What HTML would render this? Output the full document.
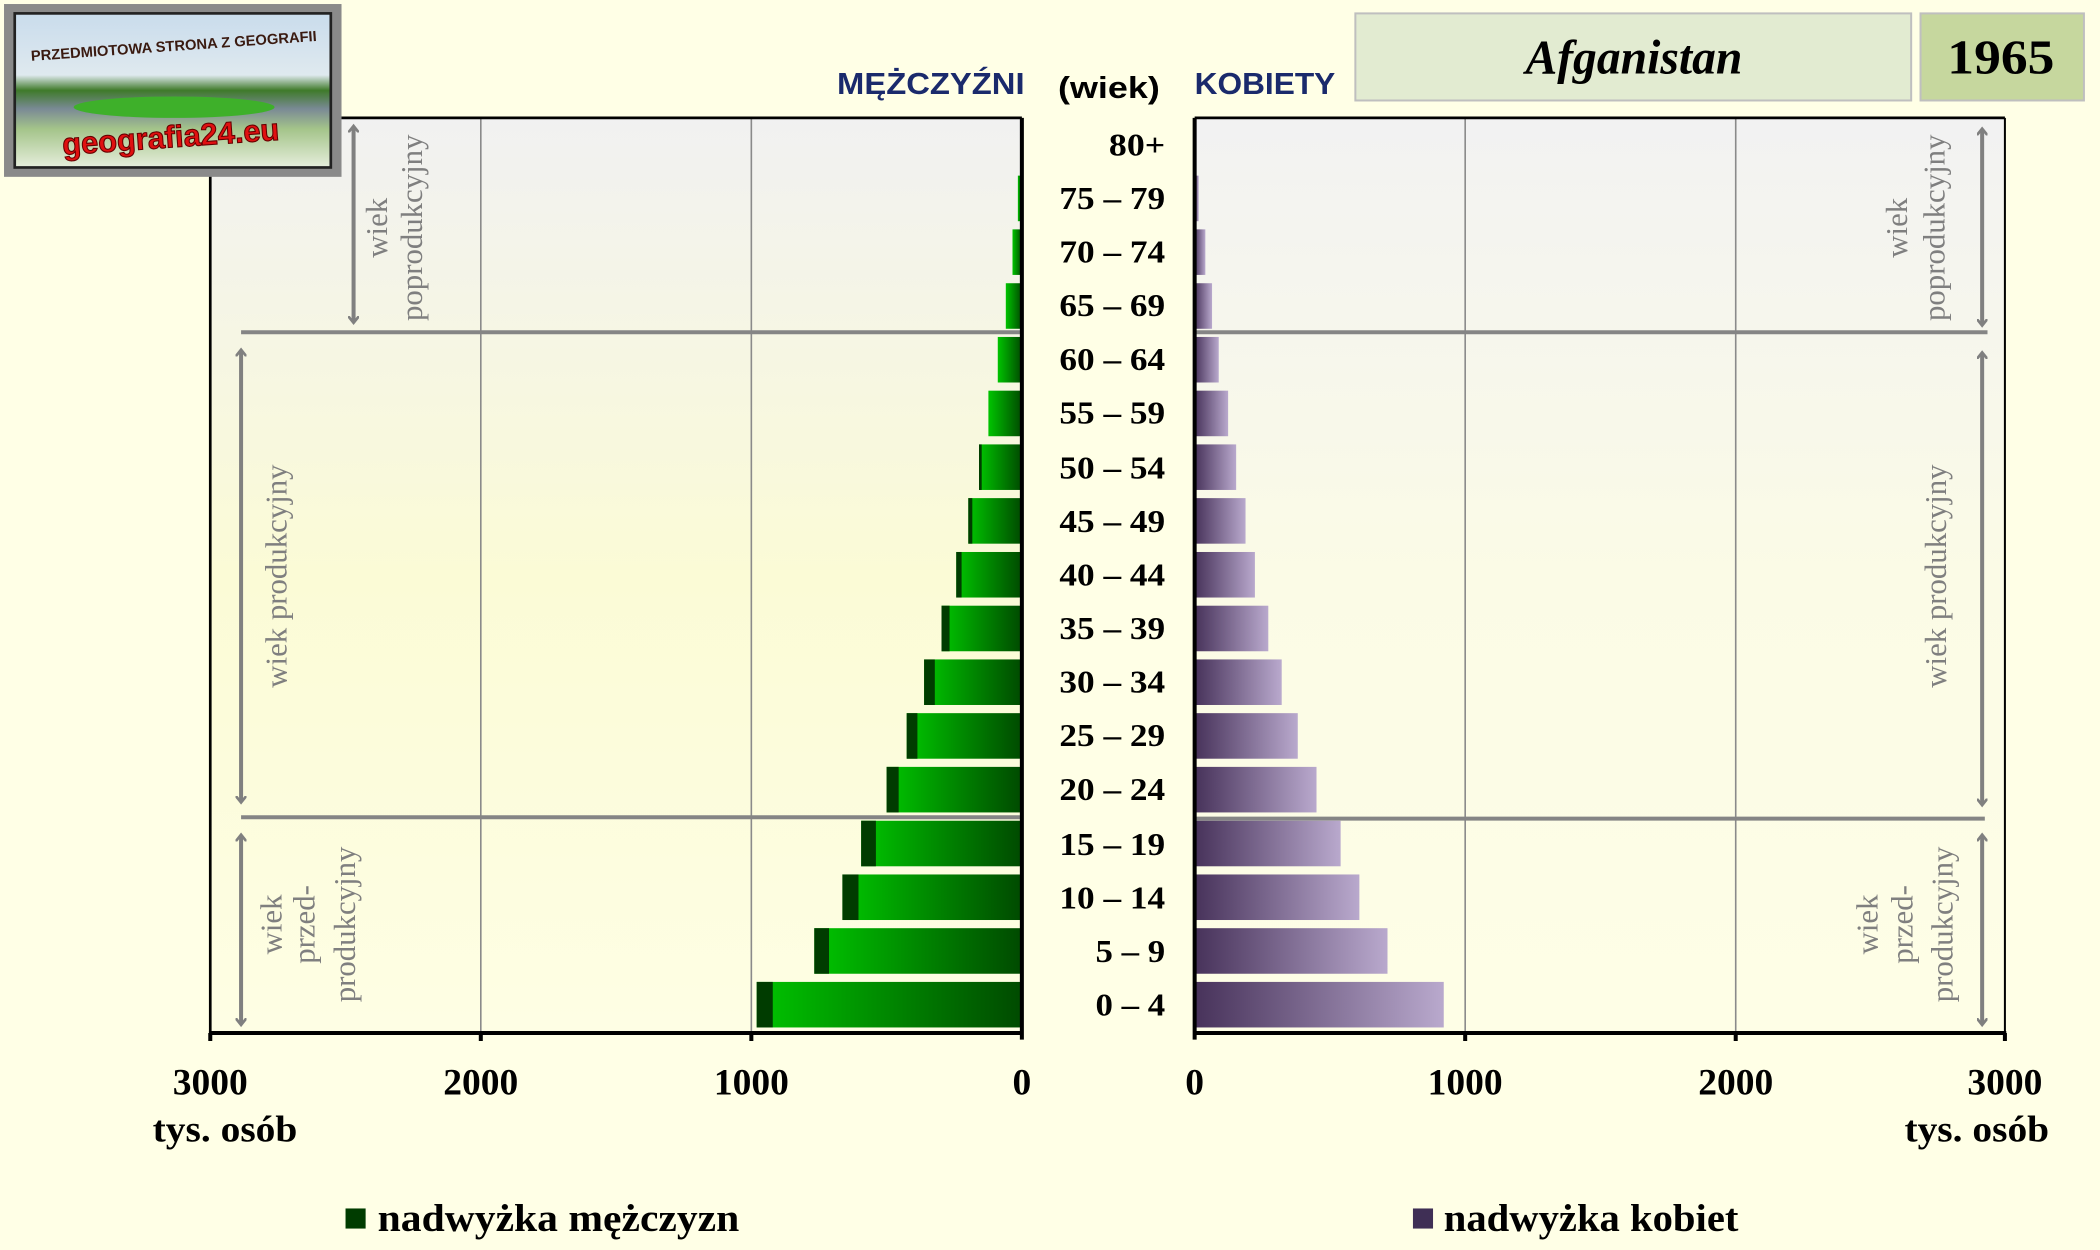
<!DOCTYPE html>
<html><head><meta charset="utf-8"><style>
html,body{margin:0;padding:0;background:#ffffe6;}
svg{display:block}
</style></head><body>
<svg width="2100" height="1250" viewBox="0 0 1568 933" preserveAspectRatio="none" xmlns="http://www.w3.org/2000/svg">
<defs>
<linearGradient id="bg" x1="0" y1="0" x2="0" y2="1">
<stop offset="0" stop-color="#f1f1f1"/><stop offset="0.5" stop-color="#fbfbd6"/><stop offset="1" stop-color="#fefee4"/></linearGradient>
<linearGradient id="bgr" x1="0" y1="0" x2="0" y2="1">
<stop offset="0" stop-color="#f2f2f2"/><stop offset="0.5" stop-color="#fbfbe6"/><stop offset="1" stop-color="#fefee6"/></linearGradient>
<linearGradient id="gm" x1="0" y1="0" x2="1" y2="0">
<stop offset="0" stop-color="#00c400"/><stop offset="1" stop-color="#004a00"/></linearGradient>
<linearGradient id="gf" x1="0" y1="0" x2="1" y2="0">
<stop offset="0" stop-color="#47325a"/><stop offset="1" stop-color="#b9a9cd"/></linearGradient>
<linearGradient id="sky" x1="0" y1="0" x2="0" y2="1">
<stop offset="0" stop-color="#c9dcec"/><stop offset="0.4" stop-color="#dfe9ef"/><stop offset="0.5" stop-color="#3f7a2a"/><stop offset="0.62" stop-color="#7a8a95"/><stop offset="0.75" stop-color="#a4c48a"/><stop offset="1" stop-color="#e6eedc"/></linearGradient>
<marker id="ah" markerWidth="8" markerHeight="8" refX="4" refY="4" orient="auto-start-reverse" markerUnits="userSpaceOnUse"><path d="M0,0 L5,4 L0,8" fill="none" stroke="#808080" stroke-width="2"/></marker>
</defs>
<rect width="1568" height="933" fill="#ffffe6"/>
<rect x="157" y="88" width="606" height="682" fill="url(#bg)"/>
<rect x="892" y="88" width="605" height="682" fill="url(#bgr)"/>
<g stroke="#8a8a8a" stroke-width="1.2">
<line x1="359" y1="88" x2="359" y2="770"/><line x1="561" y1="88" x2="561" y2="770"/>
<line x1="1094" y1="88" x2="1094" y2="770"/><line x1="1296" y1="88" x2="1296" y2="770"/>
</g>
<g stroke="#858585" stroke-width="3">
<line x1="180" y1="248" x2="763" y2="248"/><line x1="180" y1="610" x2="763" y2="610"/>
<line x1="892" y1="248" x2="1484" y2="248"/><line x1="892" y1="611" x2="1482" y2="611"/>
</g>
<g>
<rect x="762" y="91" width="1" height="34" fill="#003c00"/>
<rect x="760" y="131.1" width="3" height="34" fill="url(#gm)"/>
<rect x="756" y="171.2" width="7" height="34" fill="url(#gm)"/>
<rect x="751" y="211.4" width="12" height="34" fill="url(#gm)"/>
<rect x="745" y="251.5" width="18" height="34" fill="url(#gm)"/>
<rect x="738" y="291.6" width="25" height="34" fill="url(#gm)"/>
<rect x="731" y="331.7" width="32" height="34" fill="url(#gm)"/><rect x="731" y="331.7" width="2" height="34" fill="#003c00"/>
<rect x="723" y="371.8" width="40" height="34" fill="url(#gm)"/><rect x="723" y="371.8" width="3" height="34" fill="#003c00"/>
<rect x="714" y="412" width="49" height="34" fill="url(#gm)"/><rect x="714" y="412" width="4" height="34" fill="#003c00"/>
<rect x="703" y="452.1" width="60" height="34" fill="url(#gm)"/><rect x="703" y="452.1" width="6" height="34" fill="#003c00"/>
<rect x="690" y="492.2" width="73" height="34" fill="url(#gm)"/><rect x="690" y="492.2" width="8" height="34" fill="#003c00"/>
<rect x="677" y="532.3" width="86" height="34" fill="url(#gm)"/><rect x="677" y="532.3" width="8" height="34" fill="#003c00"/>
<rect x="662" y="572.4" width="101" height="34" fill="url(#gm)"/><rect x="662" y="572.4" width="9" height="34" fill="#003c00"/>
<rect x="643" y="612.6" width="120" height="34" fill="url(#gm)"/><rect x="643" y="612.6" width="11" height="34" fill="#003c00"/>
<rect x="629" y="652.7" width="134" height="34" fill="url(#gm)"/><rect x="629" y="652.7" width="12" height="34" fill="#003c00"/>
<rect x="608" y="692.8" width="155" height="34" fill="url(#gm)"/><rect x="608" y="692.8" width="11" height="34" fill="#003c00"/>
<rect x="565" y="732.9" width="198" height="34" fill="url(#gm)"/><rect x="565" y="732.9" width="12" height="34" fill="#003c00"/>
</g>
<g fill="url(#gf)">
<rect x="892" y="91" width="1" height="34"/>
<rect x="892" y="131.1" width="3" height="34"/>
<rect x="892" y="171.2" width="8" height="34"/>
<rect x="892" y="211.4" width="13" height="34"/>
<rect x="892" y="251.5" width="18" height="34"/>
<rect x="892" y="291.6" width="25" height="34"/>
<rect x="892" y="331.7" width="31" height="34"/>
<rect x="892" y="371.8" width="38" height="34"/>
<rect x="892" y="412" width="45" height="34"/>
<rect x="892" y="452.1" width="55" height="34"/>
<rect x="892" y="492.2" width="65" height="34"/>
<rect x="892" y="532.3" width="77" height="34"/>
<rect x="892" y="572.4" width="91" height="34"/>
<rect x="892" y="612.6" width="109" height="34"/>
<rect x="892" y="652.7" width="123" height="34"/>
<rect x="892" y="692.8" width="144" height="34"/>
<rect x="892" y="732.9" width="186" height="34"/>
</g>
<g stroke="#000">
<line x1="157" y1="88" x2="763" y2="88" stroke-width="2"/>
<line x1="157" y1="88" x2="157" y2="770" stroke-width="2"/>
<line x1="892" y1="88" x2="1497" y2="88" stroke-width="2"/>
<line x1="1497" y1="88" x2="1497" y2="770" stroke-width="1.5"/>
<line x1="763" y1="88" x2="763" y2="776" stroke-width="3"/>
<line x1="892" y1="88" x2="892" y2="776" stroke-width="3"/>
<line x1="156" y1="771" x2="764" y2="771" stroke-width="3"/>
<line x1="891" y1="771" x2="1498" y2="771" stroke-width="3"/>
<line x1="157" y1="771" x2="157" y2="777" stroke-width="3"/>
<line x1="359" y1="771" x2="359" y2="777" stroke-width="3"/>
<line x1="561" y1="771" x2="561" y2="777" stroke-width="3"/>
<line x1="1094" y1="771" x2="1094" y2="777" stroke-width="3"/>
<line x1="1296" y1="771" x2="1296" y2="777" stroke-width="3"/>
<line x1="1497" y1="771" x2="1497" y2="777" stroke-width="3"/>
</g>
<g font-family="Liberation Serif, serif" font-weight="bold" font-size="24" text-anchor="end" fill="#000">
<text x="870" y="116" textLength="42" lengthAdjust="spacingAndGlyphs">80+</text>
<text x="870" y="156" textLength="79" lengthAdjust="spacingAndGlyphs">75 – 79</text>
<text x="870" y="196" textLength="79" lengthAdjust="spacingAndGlyphs">70 – 74</text>
<text x="870" y="236" textLength="79" lengthAdjust="spacingAndGlyphs">65 – 69</text>
<text x="870" y="276" textLength="79" lengthAdjust="spacingAndGlyphs">60 – 64</text>
<text x="870" y="316" textLength="79" lengthAdjust="spacingAndGlyphs">55 – 59</text>
<text x="870" y="357" textLength="79" lengthAdjust="spacingAndGlyphs">50 – 54</text>
<text x="870" y="397" textLength="79" lengthAdjust="spacingAndGlyphs">45 – 49</text>
<text x="870" y="437" textLength="79" lengthAdjust="spacingAndGlyphs">40 – 44</text>
<text x="870" y="477" textLength="79" lengthAdjust="spacingAndGlyphs">35 – 39</text>
<text x="870" y="517" textLength="79" lengthAdjust="spacingAndGlyphs">30 – 34</text>
<text x="870" y="557" textLength="79" lengthAdjust="spacingAndGlyphs">25 – 29</text>
<text x="870" y="597" textLength="79" lengthAdjust="spacingAndGlyphs">20 – 24</text>
<text x="870" y="638" textLength="79" lengthAdjust="spacingAndGlyphs">15 – 19</text>
<text x="870" y="678" textLength="79" lengthAdjust="spacingAndGlyphs">10 – 14</text>
<text x="870" y="718" textLength="52" lengthAdjust="spacingAndGlyphs">5 – 9</text>
<text x="870" y="758" textLength="52" lengthAdjust="spacingAndGlyphs">0 – 4</text>
</g>
<g font-family="Liberation Sans, sans-serif" font-weight="bold" font-size="23">
<text x="765" y="70" text-anchor="end" fill="#1a2a6c" textLength="140" lengthAdjust="spacingAndGlyphs">MĘŻCZYŹNI</text>
<text x="790" y="73" fill="#000" textLength="76" lengthAdjust="spacingAndGlyphs">(wiek)</text>
<text x="892" y="70" fill="#1a2a6c" textLength="105" lengthAdjust="spacingAndGlyphs">KOBIETY</text>
</g>
<rect x="1012" y="10" width="415" height="65" fill="#e2ebd1" stroke="#bfbfbf" stroke-width="1.5"/>
<rect x="1434" y="10" width="122" height="65" fill="#c6d79e" stroke="#bfbfbf" stroke-width="1.5"/>
<text x="1220" y="55" text-anchor="middle" font-family="Liberation Serif, serif" font-style="italic" font-weight="bold" font-size="36" textLength="162" lengthAdjust="spacingAndGlyphs">Afganistan</text>
<text x="1494" y="55" text-anchor="middle" font-family="Liberation Serif, serif" font-weight="bold" font-size="36" textLength="80" lengthAdjust="spacingAndGlyphs">1965</text>
<g font-family="Liberation Serif, serif" font-weight="bold" font-size="28" text-anchor="middle">
<text x="157" y="817">3000</text><text x="359" y="817">2000</text><text x="561" y="817">1000</text><text x="763" y="817">0</text>
<text x="892" y="817">0</text><text x="1094" y="817">1000</text><text x="1296" y="817">2000</text><text x="1497" y="817">3000</text>
<text x="168" y="852" textLength="108" lengthAdjust="spacingAndGlyphs">tys. osób</text><text x="1476" y="852" textLength="108" lengthAdjust="spacingAndGlyphs">tys. osób</text>
</g>
<rect x="258" y="902" width="15" height="15" fill="#003c00"/>
<text x="282" y="919" font-family="Liberation Serif, serif" font-weight="bold" font-size="29" textLength="270" lengthAdjust="spacingAndGlyphs">nadwyżka mężczyzn</text>
<rect x="1055" y="902" width="15" height="15" fill="#3f2f55"/>
<text x="1078" y="919" font-family="Liberation Serif, serif" font-weight="bold" font-size="29" textLength="220" lengthAdjust="spacingAndGlyphs">nadwyżka kobiet</text>
<g stroke="#808080" stroke-width="3" marker-start="url(#ah)" marker-end="url(#ah)">
<line x1="264" y1="95" x2="264" y2="240"/>
<line x1="180" y1="262" x2="180" y2="598"/>
<line x1="180" y1="624" x2="180" y2="764"/>
<line x1="1480" y1="97" x2="1480" y2="242"/>
<line x1="1480" y1="264" x2="1480" y2="600"/>
<line x1="1480" y1="624" x2="1480" y2="764"/>
</g>
<g font-family="Liberation Serif, serif" font-size="23" fill="#7f7f7f" text-anchor="middle">
<text transform="translate(289,170) rotate(-90)">wiek</text>
<text transform="translate(315,170) rotate(-90)">poprodukcyjny</text>
<text transform="translate(214,430) rotate(-90)">wiek produkcyjny</text>
<text transform="translate(210,690) rotate(-90)">wiek</text>
<text transform="translate(235,690) rotate(-90)">przed-</text>
<text transform="translate(265,690) rotate(-90)">produkcyjny</text>
<text transform="translate(1424,170) rotate(-90)">wiek</text>
<text transform="translate(1452,170) rotate(-90)">poprodukcyjny</text>
<text transform="translate(1453,430) rotate(-90)">wiek produkcyjny</text>
<text transform="translate(1402,690) rotate(-90)">wiek</text>
<text transform="translate(1428,690) rotate(-90)">przed-</text>
<text transform="translate(1458,690) rotate(-90)">produkcyjny</text>
</g>
<rect x="3" y="3" width="252" height="129" fill="#8a8a8a"/>
<rect x="11" y="10" width="236" height="115" fill="url(#sky)" stroke="#222" stroke-width="2"/>
<ellipse cx="130" cy="80" rx="75" ry="8" fill="#3eb02a"/>
<text x="130" y="38" text-anchor="middle" font-family="Liberation Sans, sans-serif" font-weight="bold" font-size="11" fill="#3a1a10" transform="rotate(-4 130 38)">PRZEDMIOTOWA STRONA Z GEOGRAFII</text>
<text x="128" y="110" text-anchor="middle" font-family="Liberation Sans, sans-serif" font-weight="bold" font-size="23" fill="#e01010" stroke="#600" stroke-width="0.8" transform="rotate(-4 128 110)">geografia24.eu</text>
</svg>
</body></html>
